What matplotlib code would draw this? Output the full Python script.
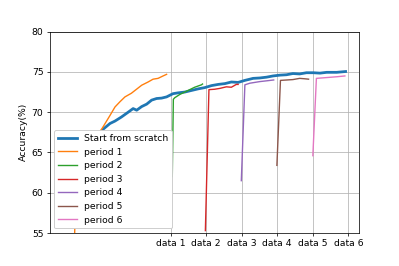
import numpy as np
import matplotlib.pyplot as plt

# x in "data chunk" units: data k sits at x = k
scratch_x = [-1.6, -1.2, -0.89, -0.7, -0.56, -0.38, -0.19, -0.05, 0.05, 0.19, 0.33, 0.47,
             0.61, 0.75, 0.89, 1.07, 1.21, 1.40, 1.59, 1.78, 1.96, 2.15, 2.34, 2.53,
             2.71, 2.90, 3.09, 3.23, 3.32, 3.51, 3.70, 3.88, 4.07, 4.26, 4.44, 4.63,
             4.82, 5.01, 5.20, 5.39, 5.67, 5.92]
scratch_y = [56.0, 63.0, 67.9, 68.6, 68.9, 69.4, 70.0, 70.45, 70.25, 70.7, 71.0, 71.5,
             71.7, 71.75, 71.9, 72.3, 72.4, 72.5, 72.7, 72.9, 73.05, 73.3, 73.45, 73.55,
             73.75, 73.7, 73.95, 74.1, 74.2, 74.25, 74.35, 74.5, 74.6, 74.65, 74.8, 74.75,
             74.9, 74.9, 74.85, 74.95, 74.95, 75.05]

p1_x = [-1.74, -1.68, -1.5, -1.25, -0.92, -0.7, -0.56, -0.42, -0.28, -0.1, 0.19, 0.37, 0.51, 0.65, 0.79, 0.89]
p1_y = [48.0, 57.0, 62.0, 66.0, 68.0, 69.6, 70.65, 71.3, 71.9, 72.35, 73.35, 73.75, 74.1, 74.2, 74.5, 74.7]

p2_x = [1.05, 1.08, 1.12, 1.26, 1.40, 1.54, 1.68, 1.87, 1.90]
p2_y = [62.0, 71.6, 71.8, 72.2, 72.5, 72.8, 73.1, 73.4, 73.5]

p3_x = [1.98, 2.08, 2.24, 2.38, 2.57, 2.71, 2.85, 2.90]
p3_y = [55.3, 72.8, 72.85, 72.95, 73.15, 73.1, 73.45, 73.45]

p4_x = [2.99, 3.09, 3.23, 3.51, 3.71, 3.90]
p4_y = [61.5, 73.4, 73.6, 73.8, 73.9, 74.0]

p5_x = [3.99, 4.09, 4.27, 4.44, 4.63, 4.77, 4.88]
p5_y = [63.4, 73.95, 74.0, 74.05, 74.2, 74.15, 74.1]

p6_x = [5.0, 5.10, 5.39, 5.67, 5.90]
p6_y = [64.6, 74.2, 74.3, 74.4, 74.5]

ticks = [1, 2, 3, 4, 5, 6]
tick_labels = ['data 1', 'data 2', 'data 3', 'data 4', 'data 5', 'data 6']

fig = plt.figure(figsize=(6, 4), dpi=66.5)
ax = fig.add_axes([0.125, 0.124, 0.775, 0.757])

ax.plot(scratch_x, scratch_y, color='tab:blue', lw=3, label='Start from scratch')
ax.plot(p1_x, p1_y, color='tab:orange', label='period 1')
ax.plot(p2_x, p2_y, color='tab:green', label='period 2')
ax.plot(p3_x, p3_y, color='tab:red', label='period 3')
ax.plot(p4_x, p4_y, color='tab:purple', label='period 4')
ax.plot(p5_x, p5_y, color='tab:brown', label='period 5')
ax.plot(p6_x, p6_y, color='tab:pink', label='period 6')

ax.set_xlim(-2.39, 6.3)
ax.set_ylim(55, 80)
ax.set_xticks(ticks)
ax.set_xticklabels(tick_labels)
ax.set_yticks([55, 60, 65, 70, 75, 80])
ax.set_ylabel('Accuracy(%)')
ax.grid(True)
ax.legend(loc='lower left', framealpha=1)

plt.savefig('out.png', dpi=66.5)
